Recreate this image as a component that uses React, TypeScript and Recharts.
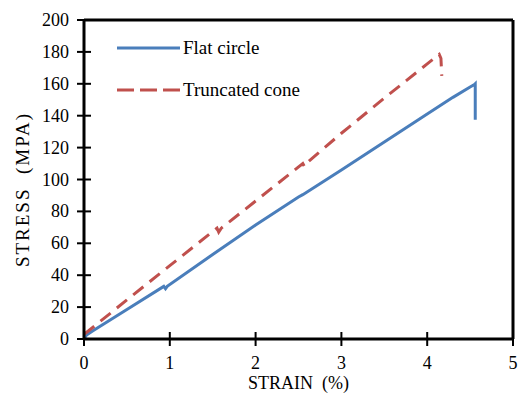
import React from 'react';
import { LineChart, Line, XAxis, YAxis, ReferenceLine, Legend } from 'recharts';

const FONT = '"Liberation Serif", "Times New Roman", serif';
const BLUE = '#4A7EBB';
const RED = '#C0504D';

// Flat circle specimen
const flatStrain = [0, 0.03, 0.1, 0.5, 0.93, 0.95, 0.97, 1.5, 2, 2.5, 2.55, 3, 3.5, 4, 4.3, 4.5, 4.55, 4.56, 4.56];
const flatStress = [0, 2.5, 5, 18.5, 33, 31.5, 33, 53, 71.5, 89, 90.5, 106, 123.5, 141, 151.5, 158, 159.5, 160, 137.5];

// Truncated cone specimen
const coneStrain = [0, 0.05, 0.5, 1, 1.55, 1.57, 1.6, 2, 2.55, 2.57, 2.6, 3, 3.5, 4, 4.14, 4.16, 4.17];
const coneStress = [3, 5, 24.5, 46, 69.5, 67, 69.5, 86.5, 110, 108, 110.5, 129, 151, 172.5, 178.5, 176, 165];

const xTicks = [0, 1, 2, 3, 4, 5];
const yTicks = [0, 20, 40, 60, 80, 100, 120, 140, 160, 180, 200];

const flatCircle = flatStrain.map((s, i) => ({ strain: s, stress: flatStress[i] }));
const truncatedCone = coneStrain.map((s, i) => ({ strain: s, stress: coneStress[i] }));

const AXIS_X = 84;
const AXIS_Y = 339;

const YTick = (props: any) => {
  const { y, payload } = props;
  return (
    <g>
      <line x1={AXIS_X - 7} x2={AXIS_X + 7} y1={y} y2={y} stroke="#000" strokeWidth={2} />
      <text x={AXIS_X - 15} y={y} dy={6} textAnchor="end" fontFamily={FONT} fontSize={18} fill="#000">
        {payload.value}
      </text>
    </g>
  );
};

const XTick = (props: any) => {
  const { x, payload } = props;
  return (
    <g>
      <line x1={x} x2={x} y1={AXIS_Y - 7} y2={AXIS_Y + 7} stroke="#000" strokeWidth={2} />
      <text x={x} y={AXIS_Y + 30} textAnchor="middle" fontFamily={FONT} fontSize={18} fill="#000">
        {payload.value}
      </text>
    </g>
  );
};

const LegendBox = (props: any) => {
  const { payload } = props;
  return (
    <div>
      {payload.map((item: any) => (
        <div key={item.value} style={{ display: 'flex', alignItems: 'center', height: 42 }}>
          <svg width={70} height={10}>
            <line
              x1={5}
              x2={68}
              y1={5}
              y2={5}
              stroke={item.color}
              strokeWidth={3}
              strokeDasharray={item.payload.strokeDasharray ? '17 6' : undefined}
            />
          </svg>
          <span style={{ fontFamily: FONT, fontSize: 19, color: '#000', marginLeft: 1 }}>{item.value}</span>
        </div>
      ))}
    </div>
  );
};

export default function App() {
  return (
    <div style={{ position: 'absolute', left: 0, top: 0, background: '#fff' }}>
      <LineChart width={521} height={394} margin={{ top: 20, right: 8, bottom: 0, left: 0 }}>
        <XAxis
          dataKey="strain"
          type="number"
          domain={[0, 5]}
          ticks={xTicks}
          height={55}
          axisLine={{ stroke: '#000', strokeWidth: 3 }}
          tickLine={false}
          tick={<XTick />}
          allowDataOverflow
          label={{
            value: 'STRAIN\u00A0\u00A0(%)',
            position: 'insideBottom',
            offset: 5,
            style: { fontFamily: FONT, fontSize: 18, fill: '#000' },
          }}
        />
        <YAxis
          type="number"
          domain={[0, 200]}
          ticks={yTicks}
          width={84}
          axisLine={{ stroke: '#000', strokeWidth: 3 }}
          tickLine={false}
          tick={<YTick />}
          label={{
            value: 'STRESS\u00A0\u00A0(MPA)',
            angle: -90,
            position: 'insideLeft',
            offset: 22,
            dy: 10,
            style: { fontFamily: FONT, fontSize: 19, fill: '#000', textAnchor: 'middle', letterSpacing: 2 },
          }}
        />
        <ReferenceLine y={200} stroke="#000" strokeWidth={3} />
        <ReferenceLine x={5} stroke="#000" strokeWidth={3} />
        <Legend
          layout="vertical"
          verticalAlign="middle"
          align="center"
          content={<LegendBox />}
          wrapperStyle={{ top: 27, left: 112, width: 'auto' }}
        />
        <Line
          data={flatCircle}
          dataKey="stress"
          name="Flat circle"
          stroke={BLUE}
          strokeWidth={3}
          dot={false}
          type="linear"
          isAnimationActive={false}
        />
        <Line
          data={truncatedCone}
          dataKey="stress"
          name="Truncated cone"
          stroke={RED}
          strokeWidth={3}
          strokeDasharray="13 8"
          dot={false}
          type="linear"
          isAnimationActive={false}
        />
      </LineChart>
    </div>
  );
}
